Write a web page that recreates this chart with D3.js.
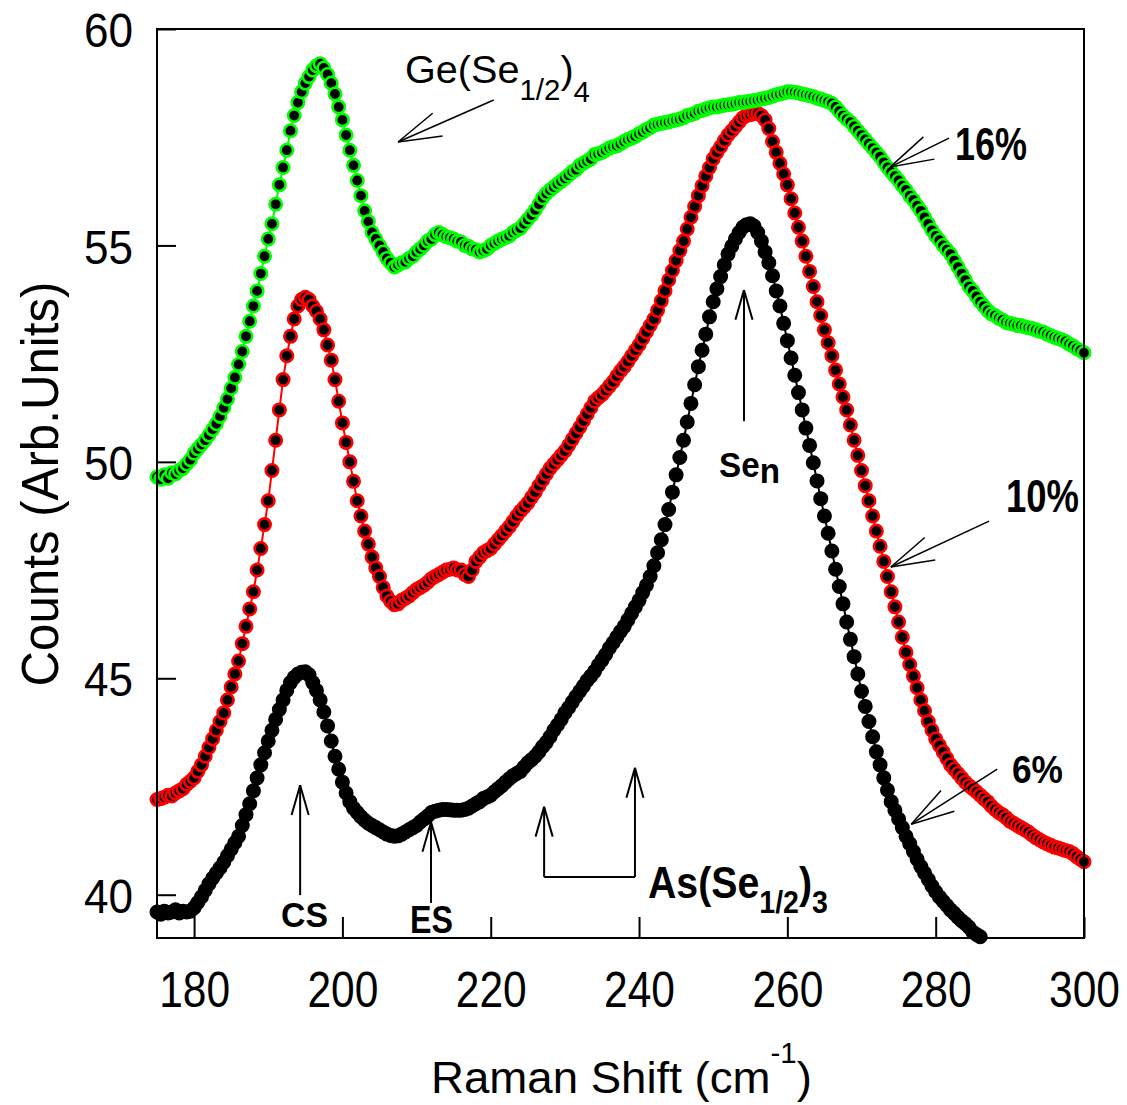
<!DOCTYPE html>
<html><head><meta charset="utf-8">
<script src="https://cdn.jsdelivr.net/npm/d3@7"></script>
<style>body{margin:0;background:#fff}svg{display:block}</style>
</head><body><svg id="c" width="1127" height="1105"></svg>
<script>
// ---- data (Raman shift grid starts at 175 cm-1, sampled every 0.5 cm-1) ----
const shiftStart = 175, shiftStep = 0.5;
const series16 = [
49.65,49.6,49.7,49.62,49.75,49.72,49.8,49.85,49.95,50.05,
50.2,50.3,50.4,50.5,50.62,50.75,50.88,51.05,51.25,51.45,
51.7,51.95,52.25,52.55,52.9,53.25,53.6,53.95,54.35,54.75,
55.15,55.5,55.95,56.4,56.8,57.2,57.65,58.0,58.3,58.55,
58.75,58.9,59.05,59.15,59.2,59.1,58.95,58.75,58.5,58.2,
57.9,57.55,57.2,56.85,56.5,56.15,55.8,55.55,55.3,55.15,
55.0,54.85,54.7,54.6,54.5,54.55,54.6,54.62,54.7,54.75,
54.85,54.92,55.0,55.1,55.15,55.25,55.3,55.25,55.2,55.18,
55.15,55.1,55.08,55.0,54.98,54.92,54.9,54.85,54.88,54.92,
55.0,55.05,55.1,55.15,55.18,55.22,55.3,55.35,55.4,55.5,
55.6,55.7,55.82,55.95,56.1,56.2,56.28,56.35,56.42,56.48,
56.55,56.62,56.7,56.75,56.85,56.9,56.95,57.0,57.1,57.12,
57.15,57.2,57.25,57.28,57.3,57.35,57.4,57.45,57.48,57.52,
57.58,57.62,57.68,57.72,57.78,57.8,57.82,57.84,57.85,57.88,
57.9,57.92,57.95,58.0,58.02,58.05,58.1,58.12,58.15,58.18,
58.2,58.2,58.22,58.24,58.25,58.26,58.28,58.3,58.3,58.32,
58.33,58.35,58.36,58.38,58.4,58.42,58.45,58.48,58.5,58.52,
58.55,58.55,58.54,58.52,58.5,58.48,58.46,58.44,58.4,58.38,
58.35,58.32,58.28,58.2,58.1,58.0,57.92,57.85,57.75,57.65,
57.55,57.45,57.35,57.25,57.15,57.05,56.92,56.8,56.7,56.6,
56.5,56.38,56.28,56.15,56.05,55.92,55.8,55.65,55.5,55.35,
55.22,55.12,55.0,54.9,54.8,54.65,54.5,54.35,54.2,54.05,
53.95,53.82,53.7,53.6,53.5,53.42,53.38,53.32,53.28,53.22,
53.2,53.18,53.15,53.15,53.12,53.1,53.08,53.05,53.02,53.0,
52.95,52.92,52.88,52.85,52.82,52.78,52.72,52.68,52.62,52.58,
52.52];
const series10 = [
42.2,42.22,42.25,42.3,42.28,42.35,42.4,42.45,42.55,42.62,
42.7,42.85,43.0,43.2,43.4,43.6,43.8,44.0,44.2,44.5,
44.8,45.1,45.4,45.8,46.2,46.6,47.0,47.5,48.0,48.55,
49.1,49.8,50.5,51.2,51.9,52.45,52.9,53.3,53.6,53.75,
53.8,53.75,53.6,53.48,53.3,53.05,52.7,52.35,51.9,51.4,
50.9,50.45,50.0,49.55,49.1,48.75,48.4,48.1,47.8,47.55,
47.35,47.1,46.9,46.78,46.7,46.72,46.8,46.85,46.9,46.98,
47.05,47.1,47.15,47.22,47.3,47.35,47.4,47.45,47.5,47.52,
47.55,47.5,47.5,47.4,47.35,47.5,47.7,47.8,47.9,47.95,
48.0,48.1,48.2,48.3,48.4,48.5,48.62,48.75,48.86,48.95,
49.05,49.18,49.3,49.45,49.58,49.72,49.85,49.95,50.05,50.15,
50.25,50.38,50.52,50.66,50.8,50.95,51.1,51.25,51.4,51.48,
51.55,51.65,51.75,51.85,51.98,52.1,52.2,52.32,52.45,52.58,
52.7,52.85,53.0,53.15,53.3,53.5,53.72,53.95,54.2,54.42,
54.65,54.88,55.1,55.38,55.65,55.9,56.15,56.38,56.6,56.8,
57.0,57.15,57.28,57.42,57.55,57.65,57.75,57.85,57.95,58.0,
58.02,58.05,58.05,58.0,57.9,57.7,57.4,57.15,56.9,56.65,
56.4,56.08,55.75,55.42,55.1,54.75,54.4,54.05,53.7,53.38,
53.05,52.75,52.45,52.12,51.8,51.5,51.2,50.85,50.5,50.15,
49.8,49.45,49.1,48.75,48.4,48.05,47.7,47.35,47.0,46.65,
46.3,45.95,45.6,45.32,45.05,44.78,44.5,44.25,44.0,43.8,
43.6,43.45,43.3,43.15,43.0,42.9,42.8,42.7,42.6,42.52,
42.45,42.38,42.3,42.22,42.15,42.05,41.97,41.9,41.85,41.78,
41.7,41.65,41.6,41.55,41.5,41.45,41.38,41.32,41.27,41.22,
41.18,41.14,41.1,41.08,41.05,41.02,41.0,40.95,40.88,40.82,
40.76];
const series6 = [
39.6,39.55,39.62,39.58,39.6,39.65,39.58,39.62,39.6,39.62,
39.7,39.82,39.95,40.1,40.25,40.38,40.5,40.62,40.75,40.9,
41.05,41.2,41.35,41.6,41.85,42.1,42.4,42.7,43.0,43.28,
43.55,43.8,44.05,44.28,44.5,44.72,44.9,45.02,45.1,45.14,
45.15,45.08,44.9,44.72,44.5,44.22,43.9,43.55,43.2,42.9,
42.6,42.35,42.15,42.0,41.9,41.8,41.72,41.65,41.6,41.55,
41.5,41.45,41.4,41.37,41.35,41.36,41.4,41.45,41.5,41.55,
41.6,41.68,41.75,41.82,41.9,41.93,41.95,41.97,41.97,41.96,
41.95,41.95,41.95,41.97,42.0,42.05,42.1,42.15,42.22,42.26,
42.3,42.38,42.45,42.52,42.6,42.68,42.75,42.8,42.85,42.95,
43.05,43.12,43.2,43.3,43.42,43.52,43.65,43.8,43.92,44.05,
44.2,44.32,44.45,44.58,44.7,44.82,44.95,45.05,45.16,45.3,
45.42,45.55,45.7,45.82,45.95,46.08,46.2,46.35,46.5,46.65,
46.8,46.98,47.15,47.35,47.6,47.9,48.2,48.55,48.9,49.3,
49.7,50.1,50.5,50.92,51.35,51.78,52.2,52.58,52.95,53.35,
53.7,54.0,54.28,54.55,54.8,54.98,55.15,55.3,55.42,55.48,
55.5,55.45,55.3,55.1,54.85,54.6,54.3,53.95,53.6,53.2,
52.8,52.4,52.0,51.6,51.2,50.78,50.38,49.98,49.56,49.15,
48.75,48.35,47.94,47.52,47.12,46.72,46.3,45.9,45.5,45.1,
44.7,44.35,44.0,43.65,43.3,43.0,42.7,42.42,42.15,41.95,
41.75,41.55,41.35,41.18,41.0,40.82,40.65,40.5,40.35,40.2,
40.07,39.95,39.85,39.75,39.65,39.57,39.48,39.4,39.33,39.25,
39.14,39.08,39.03];
const xTicks = [180, 200, 220, 240, 260, 280, 300];
const yTicks = [40, 45, 50, 55, 60];
const seriesNames = ["6%", "10%", "16%"];
const seriesColors = ["#000000", "#ff0000", "#00ff00"];
const seriesValues = [series6, series10, series16];

// ---- layout ----
const svg = d3.select("#c");
const FONT = "'Liberation Sans', Arial, Helvetica, sans-serif";
svg.attr("font-family", FONT);
const x = d3.scaleLinear().domain([175, 300]).range([157, 1084]);
const y = d3.scaleLinear().domain([39, 60]).range([938, 29]);

// data lines + markers
seriesValues.forEach((vals, k) => {
  const pts = vals.map((v, i) => ({s: shiftStart + i * shiftStep, v}));
  const g = svg.append("g").attr("class", "series").attr("data-name", seriesNames[k]);
  g.append("path").datum(pts)
    .attr("fill", "none").attr("stroke", seriesColors[k]).attr("stroke-width", 2)
    .attr("d", d3.line().x(d => x(d.s)).y(d => y(d.v)));
  g.selectAll("circle").data(pts).join("circle")
    .attr("cx", d => x(d.s)).attr("cy", d => y(d.v)).attr("r", 6.2)
    .attr("fill", "#000").attr("stroke", seriesColors[k]).attr("stroke-width", 2.6);
});

// frame
svg.append("rect").attr("x", 157).attr("y", 29).attr("width", 927).attr("height", 909)
  .attr("fill", "none").attr("stroke", "#000").attr("stroke-width", 2);

// axes (ticks inward)
const gx = svg.append("g").attr("transform", "translate(0,938)")
  .call(d3.axisBottom(x).tickValues(xTicks).tickSize(-21).tickPadding(0).tickFormat(d3.format("d")));
gx.select(".domain").remove();
gx.attr("font-family", FONT).attr("font-size", 50);
gx.selectAll("line").attr("stroke", "#000").attr("stroke-width", 2);
gx.selectAll("text").attr("y", 0).attr("dy", 0).attr("fill", "#000")
  .attr("transform", "translate(0,69) scale(0.85,1)");

const gy = svg.append("g").attr("transform", "translate(157,0)")
  .call(d3.axisLeft(y).tickValues(yTicks).tickSize(-19).tickPadding(0).tickFormat(d3.format("d")));
gy.select(".domain").remove();
gy.attr("font-family", FONT).attr("font-size", 49);
gy.selectAll("line").attr("stroke", "#000").attr("stroke-width", 2);
gy.selectAll("text").attr("x", 0).attr("dy", "0.36em").attr("fill", "#000")
  .attr("transform", "translate(-24,0) scale(0.9,1)");

// ---- text helper: fits text into a measured width ----
function label(parts, o) {
  const g = svg.append("g").attr("transform", `translate(${o.x},${o.y})` + (o.rotate ? ` rotate(${o.rotate})` : ""));
  const t = g.append("text").attr("font-size", o.size).attr("fill", "#000")
    .attr("font-weight", o.bold ? "bold" : "normal").attr("text-anchor", o.anchor || "start");
  parts.forEach(p => {
    const ts = t.append("tspan").text(p.text);
    if (p.size) ts.attr("font-size", p.size);
    if (p.dy) ts.attr("dy", p.dy);
  });
  const w = t.node().getBBox().width;
  if (o.width) t.attr("transform", `scale(${o.width / w},1)`);
  return g;
}
// ---- arrow helper (open arrowhead drawn with two barbs) ----
function arrow(x1, y1, x2, y2, head, sw) {
  const g = svg.append("g").attr("stroke", "#000").attr("stroke-width", sw).attr("fill", "none");
  g.append("line").attr("x1", x1).attr("y1", y1).attr("x2", x2).attr("y2", y2);
  const a = Math.atan2(y1 - y2, x1 - x2), h = 16 * Math.PI / 180;
  [a - h, a + h].forEach(b => g.append("line").attr("x1", x2).attr("y1", y2)
    .attr("x2", x2 + head * Math.cos(b)).attr("y2", y2 + head * Math.sin(b)));
}

// axis titles
label([{text: "Raman Shift (cm"}, {text: "-1", size: 29, dy: -30}, {text: ")", dy: 30}],
  {x: 431, y: 1093, size: 45, width: 381});
label([{text: "Counts (Arb.Units)"}], {x: 58, y: 484, size: 52, width: 405, anchor: "middle", rotate: -90});

// annotations: arrows given in data coordinates (tail -> tip)
const diagArrows = [
  {s0: 220.4, v0: 58.36, s1: 207.5, v1: 57.39},   // Ge(Se1/2)4
  {s0: 281.8, v0: 57.48, s1: 273.85, v1: 56.81},  // 16%
  {s0: 287.2, v0: 48.63, s1: 273.95, v1: 47.57},  // 10%
  {s0: 288.3, v0: 42.90, s1: 276.7, v1: 41.63}    // 6%
];
diagArrows.forEach(d => arrow(x(d.s0), y(d.v0), x(d.s1), y(d.v1), 45, 1.5));
const vertArrows = [
  {s: 194.3, v0: 39.99, v1: 42.53},  // CS
  {s: 211.95, v0: 39.81, v1: 41.68}, // ES
  {s: 227.2, v0: 40.41, v1: 42.03},  // As(Se1/2)3 low
  {s: 239.45, v0: 40.41, v1: 42.93}, // As(Se1/2)3 high
  {s: 254.15, v0: 50.94, v1: 53.97}  // Se_n
];
vertArrows.forEach(d => arrow(x(d.s), y(d.v0), x(d.s), y(d.v1), 31, 2));
svg.append("line").attr("x1", x(227.2)).attr("x2", x(239.45)).attr("y1", y(40.41)).attr("y2", y(40.41))
  .attr("stroke", "#000").attr("stroke-width", 2);

// annotation texts
label([{text: "Ge(Se"}, {text: "1/2", size: 29, dy: 17}, {text: ")", dy: -17}, {text: "4", size: 29, dy: 19}],
  {x: 405, y: 83, size: 39, width: 185});
label([{text: "16%"}], {x: 955, y: 160, size: 46, bold: true, width: 72});
label([{text: "10%"}], {x: 1006, y: 512, size: 46, bold: true, width: 73});
label([{text: "6%"}], {x: 1012, y: 783, size: 39, bold: true, width: 51});
label([{text: "Se"}, {text: "n", dy: 6}], {x: 719, y: 477, size: 35, bold: true, width: 61});
label([{text: "CS"}], {x: 281, y: 927, size: 35, bold: true, width: 47});
label([{text: "ES"}], {x: 410, y: 933, size: 38, bold: true, width: 43});
label([{text: "As(Se"}, {text: "1/2", size: 32, dy: 15}, {text: ")", dy: -15}, {text: "3", size: 32, dy: 15}],
  {x: 648, y: 898, size: 44, bold: true, width: 180});
</script></body></html>
